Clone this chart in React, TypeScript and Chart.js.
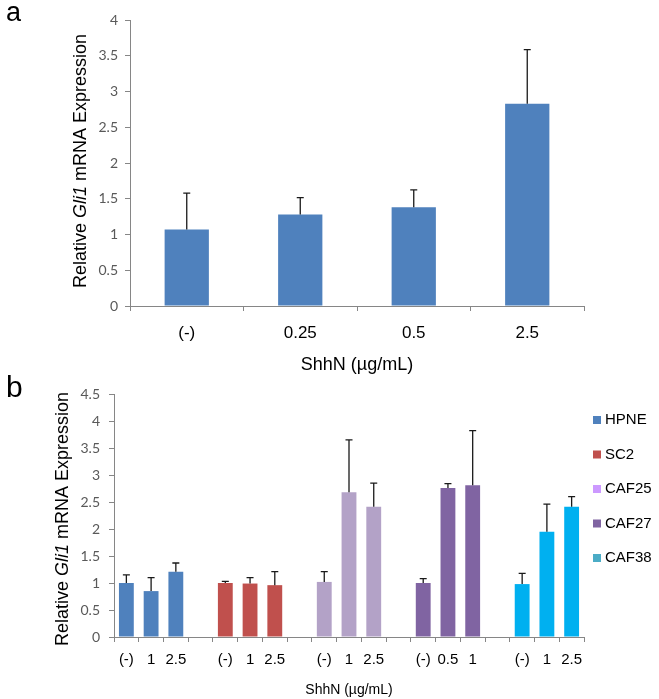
import React, { useEffect, useRef } from "react";
import { Chart, registerables } from "chart.js";

Chart.register(...registerables);

// ---------- Data: panel a ----------
const categoriesA = ["(-)", "0.25", "0.5", "2.5"];
const valuesA = [1.07, 1.28, 1.38, 2.83];
const errorsA = [0.51, 0.235, 0.245, 0.755];

// ---------- Data: panel b ----------
const seriesNames = ["HPNE", "SC2", "CAF25", "CAF27", "CAF38"];
const groupDoses = [
  ["(-)", "1", "2.5"],
  ["(-)", "1", "2.5"],
  ["(-)", "1", "2.5"],
  ["(-)", "0.5", "1"],
  ["(-)", "1", "2.5"],
];
const hpneValues = [1.0, 0.85, 1.21];
const hpneErrors = [0.15, 0.25, 0.16];
const sc2Values = [1.0, 0.99, 0.96];
const sc2Errors = [0.03, 0.11, 0.25];
const caf25Values = [1.02, 2.68, 2.41];
const caf25Errors = [0.19, 0.97, 0.44];
const caf27Values = [1.0, 2.76, 2.81];
const caf27Errors = [0.08, 0.08, 1.01];
const caf38Values = [0.98, 1.95, 2.41];
const caf38Errors = [0.2, 0.51, 0.19];

const seriesValues = [hpneValues, sc2Values, caf25Values, caf27Values, caf38Values];
const seriesErrors = [hpneErrors, sc2Errors, caf25Errors, caf27Errors, caf38Errors];

// ---------- Styles ----------
const barColorA = "#4F81BD";
const barColorsB = ["#4F81BD", "#C0504D", "#B3A2C7", "#8064A2", "#00B0F0"];
const legendColorsB = ["#4F81BD", "#C0504D", "#CC99FF", "#8064A2", "#4BACC6"];
const AXIS = "#868686";
const SANS = "'Liberation Sans', Arial, sans-serif";
const TICKFONT = "Lato, 'Open Sans', sans-serif";

// categories for panel b: 3 doses per group, blank spacer between groups
const categoriesB: string[] = [];
groupDoses.forEach((g, gi) => {
  g.forEach((d) => categoriesB.push(d));
  if (gi < groupDoses.length - 1) categoriesB.push("");
});

function padSeries(arr: number[], gi: number) {
  const start = gi * 4;
  return categoriesB.map((_, idx) =>
    idx >= start && idx < start + arr.length ? arr[idx - start] : null
  );
}

const errorBarPlugin = {
  id: "errorBars",
  afterDatasetsDraw(chart: any) {
    const ctx = chart.ctx;
    const y = chart.scales.y;
    chart.data.datasets.forEach((ds: any, i: number) => {
      const errs = ds.errors;
      if (!errs) return;
      const meta = chart.getDatasetMeta(i);
      meta.data.forEach((el: any, j: number) => {
        const v = ds.data[j];
        const e = errs[j];
        if (v == null || e == null) return;
        const top = y.getPixelForValue(v + e);
        ctx.save();
        ctx.strokeStyle = "#1a1a1a";
        ctx.lineWidth = 1.3;
        ctx.beginPath();
        ctx.moveTo(el.x, el.y);
        ctx.lineTo(el.x, top);
        ctx.moveTo(el.x - 3.5, top);
        ctx.lineTo(el.x + 3.5, top);
        ctx.stroke();
        ctx.restore();
      });
    });
  },
};

function makeTextPlugin(cfg: {
  panel: string;
  panelX: number;
  panelY: number;
  panelSize: number;
  yTitleX: number;
  yTitleY: number;
  yTitleSize: number;
  xTitleY: number;
  xTitleSize: number;
  legend?: { x: number; y0: number; step: number; size: number };
}) {
  return {
    id: "texts" + cfg.panel,
    afterDraw(chart: any) {
      const ctx = chart.ctx;
      const area = chart.chartArea;
      ctx.save();
      ctx.fillStyle = "#000";
      // panel letter
      ctx.font = `${cfg.panelSize}px ${SANS}`;
      ctx.textAlign = "left";
      ctx.textBaseline = "alphabetic";
      ctx.fillText(cfg.panel, cfg.panelX, cfg.panelY);

      // y title with italic gene name
      const parts = [
        { t: "Relative ", it: false },
        { t: "Gli1", it: true },
        { t: " mRNA Expression", it: false },
      ];
      const fontN = `${cfg.yTitleSize}px ${SANS}`;
      const fontI = `italic ${cfg.yTitleSize}px ${SANS}`;
      let total = 0;
      const widths = parts.map((p) => {
        ctx.font = p.it ? fontI : fontN;
        const w = ctx.measureText(p.t).width;
        total += w;
        return w;
      });
      ctx.save();
      ctx.translate(cfg.yTitleX, cfg.yTitleY);
      ctx.rotate(-Math.PI / 2);
      ctx.textBaseline = "middle";
      let x = -total / 2;
      parts.forEach((p, i) => {
        ctx.font = p.it ? fontI : fontN;
        ctx.fillText(p.t, x, 0);
        x += widths[i];
      });
      ctx.restore();

      // x title
      ctx.font = `${cfg.xTitleSize}px ${SANS}`;
      ctx.textAlign = "center";
      ctx.textBaseline = "middle";
      ctx.fillText("ShhN (\u00b5g/mL)", (area.left + area.right) / 2, cfg.xTitleY);

      // legend
      if (cfg.legend) {
        const L = cfg.legend;
        ctx.font = `${L.size}px ${SANS}`;
        ctx.textAlign = "left";
        ctx.textBaseline = "middle";
        chart.data.datasets.forEach((ds: any, i: number) => {
          const cy = L.y0 + i * L.step;
          ctx.fillStyle = ds.legendColor;
          ctx.fillRect(L.x, cy - 4, 8, 8);
          ctx.fillStyle = "#000";
          ctx.fillText(ds.label, L.x + 12, cy);
        });
      }
      ctx.restore();
    },
  };
}

function axisOptions(yMax: number, yWidth: number, xHeight: number, xFont: number, xPad: number, yPad: number) {
  return {
    x: {
      grid: {
        display: true,
        drawOnChartArea: false,
        drawTicks: true,
        tickLength: 5,
        color: AXIS,
        offset: true,
      },
      border: { display: true, color: AXIS, width: 1 },
      ticks: {
        color: "#000",
        font: { family: SANS, size: xFont },
        padding: xPad,
        maxRotation: 0,
        autoSkip: false,
      },
      afterFit: (s: any) => {
        s.height = xHeight;
      },
    },
    y: {
      min: 0,
      max: yMax,
      ticks: {
        stepSize: 0.5,
        color: "#595959",
        font: { family: TICKFONT, size: 14 },
        padding: yPad,
        callback: (v: any) => String(Math.round(Number(v) * 10) / 10),
      },
      grid: {
        display: true,
        drawOnChartArea: false,
        drawTicks: true,
        tickLength: 5,
        color: AXIS,
      },
      border: { display: true, color: AXIS, width: 1 },
      afterFit: (s: any) => {
        s.width = yWidth;
      },
    },
  };
}

export default function App() {
  const refA = useRef<HTMLCanvasElement>(null);
  const refB = useRef<HTMLCanvasElement>(null);

  useEffect(() => {
    const chartA = new Chart(refA.current as HTMLCanvasElement, {
      type: "bar",
      data: {
        labels: categoriesA,
        datasets: [
          {
            label: "a",
            data: valuesA,
            errors: errorsA,
            backgroundColor: barColorA,
            barPercentage: 0.39,
            categoryPercentage: 1,
          } as any,
        ],
      },
      options: {
        responsive: false,
        animation: false,
        layout: { padding: { top: 20, right: 75, left: 0, bottom: 0 } },
        plugins: { legend: { display: false }, tooltip: { enabled: false } },
        scales: axisOptions(4, 130, 74, 17, 12, 7) as any,
      },
      plugins: [
        errorBarPlugin,
        makeTextPlugin({
          panel: "a",
          panelX: 6,
          panelY: 21,
          panelSize: 27,
          yTitleX: 81,
          yTitleY: 161,
          yTitleSize: 18,
          xTitleY: 365,
          xTitleSize: 18,
        }),
      ],
    });

    const chartB = new Chart(refB.current as HTMLCanvasElement, {
      type: "bar",
      data: {
        labels: categoriesB,
        datasets: seriesNames.map((name, gi) => ({
          label: name,
          data: padSeries(seriesValues[gi], gi),
          errors: padSeries(seriesErrors[gi], gi),
          backgroundColor: barColorsB[gi],
          legendColor: legendColorsB[gi],
          barPercentage: 0.6,
          categoryPercentage: 1,
          grouped: false,
        })) as any,
      },
      options: {
        responsive: false,
        animation: false,
        layout: { padding: { top: 34, right: 75, left: 0, bottom: 0 } },
        plugins: { legend: { display: false }, tooltip: { enabled: false } },
        scales: axisOptions(4.5, 114, 62, 15, 9, 9) as any,
      },
      plugins: [
        errorBarPlugin,
        makeTextPlugin({
          panel: "b",
          panelX: 6,
          panelY: 37,
          panelSize: 30,
          yTitleX: 63,
          yTitleY: 159,
          yTitleSize: 18,
          xTitleY: 330,
          xTitleSize: 14,
          legend: { x: 593, y0: 60, step: 34.5, size: 15 },
        }),
      ],
    });

    return () => {
      chartA.destroy();
      chartB.destroy();
    };
  }, []);

  return (
    <div
      style={{
        position: "absolute",
        left: 0,
        top: 0,
        width: 659,
        height: 699,
        background: "#fff",
        overflow: "hidden",
      }}
    >
      <canvas
        ref={refA}
        width={659}
        height={380}
        style={{ position: "absolute", left: 0, top: 0, display: "block" }}
      />
      <canvas
        ref={refB}
        width={659}
        height={339}
        style={{ position: "absolute", left: 0, top: 360, display: "block" }}
      />
    </div>
  );
}
